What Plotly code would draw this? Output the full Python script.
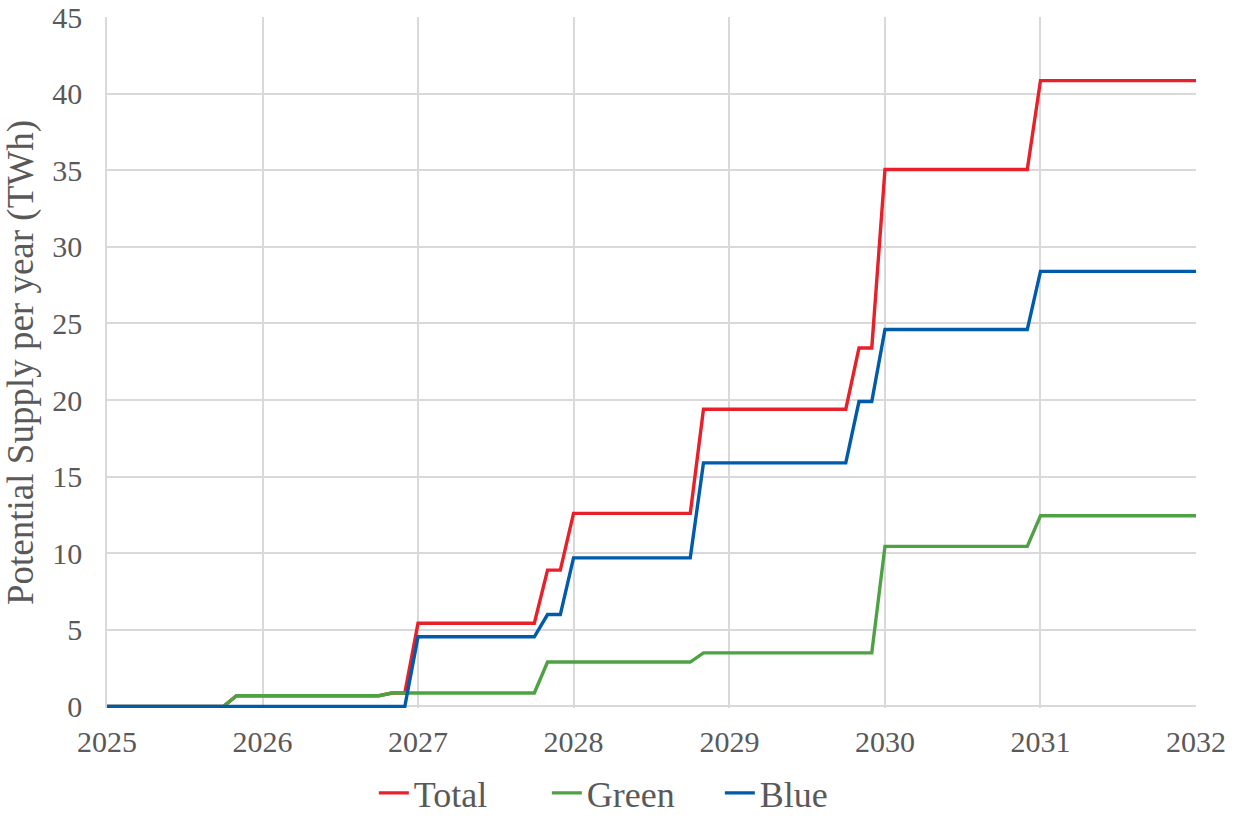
import plotly.graph_objects as go

# Vertices of each stepped supply curve (date, TWh per year)
total_dates = ["2025-01-01", "2025-10-01", "2025-11-01", "2026-10-01", "2026-11-01",
               "2026-12-01", "2027-01-01", "2027-10-01", "2027-11-01", "2027-12-01",
               "2028-01-01", "2028-10-01", "2028-11-01", "2029-10-01", "2029-11-01",
               "2029-12-01", "2030-01-01", "2030-12-01", "2031-01-01", "2032-01-01"]
total_values = [0, 0, 0.7, 0.7, 0.88,
                0.88, 5.43, 5.43, 8.9, 8.9,
                12.6, 12.6, 19.4, 19.4, 23.4,
                23.4, 35.05, 35.05, 40.85, 40.85]

green_dates = ["2025-01-01", "2025-10-01", "2025-11-01", "2026-10-01", "2026-11-01",
               "2027-10-01", "2027-11-01", "2028-10-01", "2028-11-01", "2029-12-01",
               "2030-01-01", "2030-12-01", "2031-01-01", "2032-01-01"]
green_values = [0, 0, 0.7, 0.7, 0.88,
                0.88, 2.9, 2.9, 3.5, 3.5,
                10.45, 10.45, 12.45, 12.45]

blue_dates = ["2025-01-01", "2026-12-01", "2027-01-01", "2027-10-01", "2027-11-01",
              "2027-12-01", "2028-01-01", "2028-10-01", "2028-11-01", "2029-10-01",
              "2029-11-01", "2029-12-01", "2030-01-01", "2030-12-01", "2031-01-01",
              "2032-01-01"]
blue_values = [0, 0, 4.55, 4.55, 6.0,
               6.0, 9.7, 9.7, 15.9, 15.9,
               19.9, 19.9, 24.6, 24.6, 28.4,
               28.4]

series = [
    ("Total", total_dates, total_values, "#E8202A"),
    ("Green", green_dates, green_values, "#4FA244"),
    ("Blue", blue_dates, blue_values, "#005BAA"),
]

GRID = "#D9D9D9"
TEXT = "#595959"
FONT = "Liberation Serif"

fig = go.Figure()
for name, xs, ys, color in series:
    fig.add_trace(go.Scatter(
        x=xs, y=ys, name=name, mode="lines",
        line=dict(color=color, width=3.4),
    ))

fig.update_layout(
    width=1237, height=823,
    margin=dict(l=107, r=41, t=17, b=115, autoexpand=False),
    paper_bgcolor="white", plot_bgcolor="white",
    font=dict(family=FONT, color=TEXT, size=30),
    showlegend=True,
    legend=dict(
        orientation="h", xref="container", x=0.512, xanchor="center",
        yref="container", y=-0.009, yanchor="bottom",
        font=dict(family=FONT, size=36, color=TEXT),
        itemwidth=30, traceorder="normal",
        entrywidth=128, entrywidthmode="pixels",
    ),
)

fig.update_xaxes(
    type="date", range=["2025-01-01", "2032-01-01"],
    dtick="M12", tick0="2025-01-01", tickformat="%Y",
    showgrid=True, gridcolor=GRID, gridwidth=1.5,
    showline=False, zeroline=False, automargin=False,
    ticks="outside", ticklen=7, tickcolor="rgba(0,0,0,0)",
    tickfont=dict(family=FONT, size=30, color=TEXT),
)
fig.update_yaxes(
    range=[-0.1, 45], dtick=5, tick0=0,
    showgrid=True, gridcolor=GRID, gridwidth=1.5,
    showline=True, linecolor=GRID, linewidth=1.5,
    zeroline=False, automargin=False,
    ticks="outside", ticklen=17, tickcolor="rgba(0,0,0,0)",
    tickfont=dict(family=FONT, size=30, color=TEXT),
    title=dict(text="Potential Supply per year (TWh)",
               font=dict(family=FONT, size=37, color=TEXT), standoff=12),
)

fig.write_html("out.html")
